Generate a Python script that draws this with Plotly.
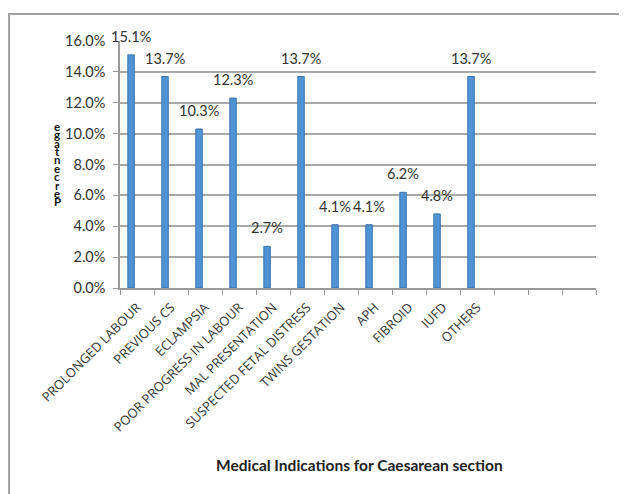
import plotly.graph_objects as go

categories = ["PROLONGED LABOUR", "PREVIOUS CS", "ECLAMPSIA", "POOR PROGRESS IN LABOUR",
              "MAL PRESENTATION", "SUSPECTED FETAL DISTRESS", "TWINS GESTATION", "APH",
              "FIBROID", "IUFD", "OTHERS"]
values = [15.1, 13.7, 10.3, 12.3, 2.7, 13.7, 4.1, 4.1, 6.2, 4.8, 13.7]
empty_slots = [" ", "  ", "   "]
y_ticks = [0, 2, 4, 6, 8, 10, 12, 14, 16]
y_tick_labels = ["0.0%", "2.0%", "4.0%", "6.0%", "8.0%", "10.0%", "12.0%", "14.0%", "16.0%"]
x_title = "Medical Indications for Caesarean section"
y_title = "Percentage"

all_cats = categories + empty_slots

fig = go.Figure()
fig.add_trace(go.Bar(
    x=categories, y=values,
    width=0.19, offset=-0.27,
    marker=dict(color="#4F94D4", line=dict(color="#3A72AC", width=1)),
    hoverinfo="skip",
))

for c, v in zip(categories, values):
    fig.add_annotation(x=c, y=v, text=f"{v:.1f}%", showarrow=False,
                       yanchor="bottom", yshift=8, xshift=-6,
                       font=dict(family="Lato", size=14.5, color="#333333"))

# stacked y-axis title letters
letters = list(reversed(y_title))
for i, ch in enumerate(letters):
    fig.add_annotation(xref="paper", yref="paper", x=-0.132, y=0.655 - i * 0.034,
                       text=ch, showarrow=False,
                       font=dict(family="Lato", size=11.5, color="#111111", weight="bold"),
                       xanchor="center", yanchor="middle")

fig.add_annotation(xref="paper", yref="paper", x=0.504, y=-0.717, text=x_title,
                   showarrow=False, xanchor="center", yanchor="middle",
                   font=dict(family="Lato", size=15.5, color="#222222", weight="bold"))

# outer frame
fig.add_shape(type="rect", xref="paper", yref="paper", x0=-0.233, x1=1.1, y0=-1.0, y1=1.109,
              line=dict(color="#A0A0A0", width=2), layer="below")

fig.update_layout(
    width=619, height=486,
    margin=dict(l=112, r=31, t=33, b=206),
    paper_bgcolor="white", plot_bgcolor="white",
    showlegend=False,
    bargap=0.8,
    xaxis=dict(type="category", categoryorder="array", categoryarray=all_cats,
               range=[-0.5, 13.5], tickangle=-45, tickson="boundaries",
               ticks="outside", ticklen=5, tickcolor="#999999", ticklabelstandoff=5,
               showline=True, linecolor="#999999", linewidth=1.5, showgrid=False,
               tickfont=dict(family="Open Sans", size=13, color="#333333")),
    yaxis=dict(range=[0, 16], tickvals=y_ticks, ticktext=y_tick_labels,
               ticks="outside", ticklen=5, tickcolor="#999999", ticklabelstandoff=5,
               showline=True, linecolor="#999999", linewidth=1.5,
               showgrid=True, gridcolor="#A8A8A8", gridwidth=1.5, zeroline=False,
               tickfont=dict(family="Lato", size=14.5, color="#333333")),
)

fig.write_html("out.html")
